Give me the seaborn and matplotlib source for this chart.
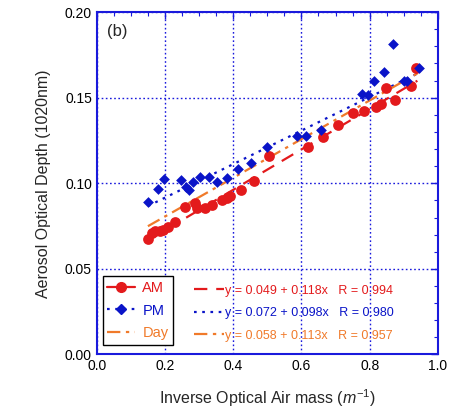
import numpy as np
import pandas as pd
import seaborn as sns
import matplotlib.pyplot as plt
from matplotlib.lines import Line2D
from matplotlib.ticker import MultipleLocator

sns.set_theme(style="white")
plt.rcParams['font.family'] = ['Liberation Sans', 'DejaVu Sans']
plt.rcParams['mathtext.fontset'] = 'custom'
plt.rcParams['mathtext.it'] = 'Liberation Sans:italic'
plt.rcParams['mathtext.rm'] = 'Liberation Sans'

# Morning (AM) observations
am_x = [0.151, 0.161, 0.171, 0.185, 0.193, 0.208, 0.229, 0.259, 0.288, 0.293,
        0.317, 0.337, 0.366, 0.381, 0.390, 0.423, 0.461, 0.505, 0.620, 0.664,
        0.707, 0.750, 0.784, 0.818, 0.833, 0.847, 0.873, 0.922, 0.937]
am_y = [0.0673, 0.0708, 0.0721, 0.0721, 0.0727, 0.0746, 0.0776, 0.0863, 0.0883, 0.0854,
        0.0854, 0.0873, 0.0902, 0.0916, 0.0928, 0.0959, 0.1015, 0.1161, 0.1214, 0.1269,
        0.1340, 0.1409, 0.1422, 0.1444, 0.1463, 0.1555, 0.1487, 0.1568, 0.1672]

# Afternoon (PM) observations
pm_x = [0.151, 0.179, 0.198, 0.246, 0.261, 0.271, 0.281, 0.302, 0.330, 0.354,
        0.381, 0.415, 0.452, 0.498, 0.586, 0.612, 0.657, 0.778, 0.795, 0.812,
        0.842, 0.869, 0.901, 0.911, 0.945]
pm_y = [0.0893, 0.0967, 0.1025, 0.1019, 0.0980, 0.0961, 0.1009, 0.1039, 0.1035, 0.1009,
        0.1029, 0.1084, 0.1117, 0.1214, 0.1276, 0.1276, 0.1311, 0.1520, 0.1516, 0.1599,
        0.1648, 0.1814, 0.1598, 0.1598, 0.1672]

# Linear fits y = a + b x and correlation coefficients
series = ["AM", "PM", "Day"]
fit_a = [0.049, 0.072, 0.058]
fit_b = [0.118, 0.098, 0.113]
fit_r = [0.994, 0.980, 0.957]
fit_range = [(0.15, 0.94), (0.15, 0.94), (0.15, 0.94)]

colors = {"AM": "#e31a1c", "PM": "#0a14c8", "Day": "#f07a2a"}
dashes = {"AM": (6, 4), "PM": (1.2, 2.5), "Day": (6, 2.5, 1.5, 2.5)}
blue = "#1a1adc"

fig = plt.figure(figsize=(4.5, 4.19), dpi=100)
ax = fig.add_axes([0.215, 0.154, 0.758, 0.817])

am_df = pd.DataFrame({"x": am_x, "y": am_y})
pm_df = pd.DataFrame({"x": pm_x, "y": pm_y})
sns.scatterplot(data=am_df, x="x", y="y", ax=ax, marker="o", s=60,
                color=colors["AM"], edgecolor=colors["AM"], linewidth=0, zorder=3)
sns.scatterplot(data=pm_df, x="x", y="y", ax=ax, marker="D", s=30,
                color=colors["PM"], edgecolor=colors["PM"], linewidth=0, zorder=3)

fit_rows = []
for name, a, b, (x0, x1) in zip(series, fit_a, fit_b, fit_range):
    xs = np.linspace(x0, x1, 50)
    fit_rows.append(pd.DataFrame({"x": xs, "y": a + b * xs, "series": name}))
fit_df = pd.concat(fit_rows, ignore_index=True)
sns.lineplot(data=fit_df, x="x", y="y", hue="series", style="series",
             palette=colors, dashes=dashes, linewidth=1.6, ax=ax,
             legend=False, zorder=2)

ax.set_xlim(0, 1.0)
ax.set_ylim(0, 0.20)
ax.xaxis.set_major_locator(MultipleLocator(0.2))
ax.xaxis.set_minor_locator(MultipleLocator(0.05))
ax.yaxis.set_major_locator(MultipleLocator(0.05))
ax.yaxis.set_minor_locator(MultipleLocator(0.01))
ax.xaxis.set_major_formatter(plt.FuncFormatter(lambda v, p: f"{v:.1f}"))
ax.yaxis.set_major_formatter(plt.FuncFormatter(lambda v, p: f"{v:.2f}"))
ax.tick_params(which="both", direction="in", top=True, right=True,
               color=blue, labelcolor="black", labelsize=10)
ax.tick_params(which="major", length=5, width=1)
ax.tick_params(which="minor", length=3, width=0.8)
for sp in ax.spines.values():
    sp.set_color(blue)
    sp.set_linewidth(1.5)
ax.grid(True, which="major", color=blue, linestyle=(0, (1.2, 1.8)), linewidth=1)
ax.set_axisbelow(True)

ax.set_xlabel(r"Inverse Optical Air mass ($m^{-1}$)", fontsize=11.5, labelpad=10)
ax.set_ylabel("Aerosol Optical Depth (1020nm)", fontsize=11.5, labelpad=10)
ax.text(0.03, 0.965, "(b)", transform=ax.transAxes, fontsize=12, va="top", ha="left")

# Series legend
h_series = [
    Line2D([], [], color=colors["AM"], linestyle="-", marker="o", markersize=7, linewidth=1.6),
    Line2D([], [], color=colors["PM"], linestyle=(0, dashes["PM"]), marker="D", markersize=5, linewidth=1.6),
    Line2D([], [], color=colors["Day"], linestyle=(0, dashes["Day"]), linewidth=1.6),
]
leg1 = ax.legend(h_series, series, loc="lower left", bbox_to_anchor=(0.01, 0.02),
                 frameon=True, fancybox=False, edgecolor="black", framealpha=1,
                 fontsize=10.5, handlelength=1.9, handletextpad=0.5,
                 labelspacing=0.6, borderpad=0.3, borderaxespad=0.2,
                 labelcolor=[colors[s] for s in series])
leg1.get_frame().set_linewidth(1.0)
ax.add_artist(leg1)

# Fit equations
h_fit = [Line2D([], [], color=colors[s], linestyle=(0, dashes[s]), linewidth=1.6) for s in series]
fit_labels = [f"y = {a:.3f} + {b:.3f}x   R = {r:.3f}" for a, b, r in zip(fit_a, fit_b, fit_r)]
leg2 = ax.legend(h_fit, fit_labels, loc="lower left", bbox_to_anchor=(0.262, 0.015),
                 frameon=False, fontsize=9, handlelength=2.4, handletextpad=0.15,
                 labelspacing=0.85, borderaxespad=0.2,
                 labelcolor=[colors[s] for s in series])

fig.savefig("out.png", dpi=100)
